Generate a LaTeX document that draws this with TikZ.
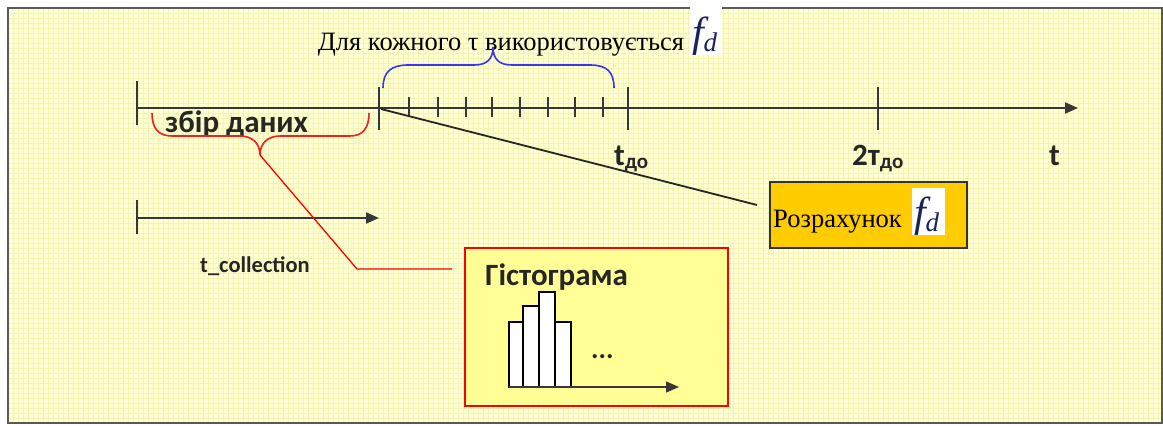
\documentclass[tikz,border=0pt]{standalone}
\usepackage{fontspec}
\setmainfont{Liberation Serif}
\newfontfamily\calfont{Carlito}
\usetikzlibrary{arrows.meta}
\definecolor{bgyel}{RGB}{255,255,212}
\definecolor{gridyel}{RGB}{246,242,178}
\definecolor{histyel}{RGB}{255,255,150}
\definecolor{calcorange}{RGB}{255,204,0}
\definecolor{axisgray}{RGB}{55,55,55}
\definecolor{framegray}{RGB}{90,90,90}
\definecolor{fdnavy}{RGB}{25,35,90}
\definecolor{braceblue}{RGB}{55,55,235}
\definecolor{bracered}{RGB}{240,30,30}
\newcommand{\fdsym}{\color{fdnavy}\fontsize{42}{42}\selectfont\itshape f\kern-1pt\raisebox{-5pt}{\fontsize{27}{27}\selectfont d}}
\newcommand{\subdo}{\raisebox{-3pt}{\fontsize{21}{21}\selectfont до}}
\begin{document}
\begin{tikzpicture}[x=1pt,y=-1pt,
  axisline/.style={axisgray, line width=2pt},
  tickmark/.style={axisgray, line width=2pt},
  arrowtip/.style={-{Triangle[length=13pt,width=11pt]}},
  serif/.style={font=\fontsize{26.5}{26.5}\selectfont, inner sep=0pt},
  boldsans/.style={font=\calfont\bfseries\fontsize{31}{31}\selectfont, inner sep=0pt, text=black!85},
  smallsans/.style={font=\calfont\bfseries\fontsize{22.5}{22.5}\selectfont, inner sep=0pt, text=black!85},
  fdwhite/.style={fill=white, inner sep=0pt},
  calcbox/.style={draw=black!80, line width=1.5pt, fill=calcorange},
  histbox/.style={draw=red, line width=1.5pt, fill=histyel},
  bar/.style={draw=black, line width=1.5pt, fill=white},
  bluebrace/.style={braceblue, line width=1.6pt},
  redbrace/.style={bracered, line width=1.6pt},
  redline/.style={red, line width=1.3pt},
  blackline/.style={black!85, line width=1.8pt}
]
\useasboundingbox (0,0) rectangle (1163,426);
\fill[white] (0,0) rectangle (1163,426);
\fill[bgyel] (8,8) rectangle (1162,423);
\foreach \gx in {13,18,...,1158} \draw[gridyel, line width=0.5pt] (\gx,8) -- (\gx,423);
\foreach \gy in {13,18,...,420} \draw[gridyel, line width=0.5pt] (8,\gy) -- (1162,\gy);
\draw[framegray, line width=2pt] (8,8) rectangle (1162,423);

% main time axis
\coordinate (ax0) at (137,108);
\coordinate (axend) at (1078,108);
\draw[axisline, arrowtip] (ax0) -- (axend);
\draw[tickmark] (137,81) -- (137,125);
\draw[tickmark] (379,87) -- (379,130);
\foreach \tx in {409,438,466,492,520,548,575,603}
  \draw[tickmark] (\tx,97) -- (\tx,117);
\draw[tickmark] (628,87) -- (628,130);
\draw[tickmark] (878,87) -- (878,130);

% axis labels
\node[boldsans, anchor=base west] (tdo) at (614,165) {t\subdo};
\node[boldsans, anchor=base west] (twotdo) at (852,165) {2т\subdo};
\node[boldsans, anchor=base west] (tlab) at (1049,165) {t};

% top label and blue brace
\node[serif, anchor=base] (foreach) at (501,50) {Для кожного τ використовується};
\node[fdwhite, minimum width=32pt, minimum height=55pt] (fdtop) at (706,27.5) {};
\node[inner sep=0pt, anchor=base] (fdtoptext) at (705,46) {\fdsym};
\draw[bluebrace] (383,88) .. controls (383,72) and (391,65) .. (408,65)
  -- (474,65) .. controls (487,65) and (493,59) .. (493,47)
  .. controls (493,59) and (499,65) .. (512,65)
  -- (590,65) .. controls (607,65) and (614,72) .. (614,88);

% data collection brace
\node[boldsans, anchor=base west] (zbir) at (165,132) {збір даних};
\coordinate (redtip) at (260,155);
\draw[redbrace] (152,113) .. controls (152,128) and (158,136) .. (172,136)
  -- (240,136) .. controls (252,136) and (260,143) .. (redtip)
  .. controls (260,143) and (268,136) .. (280,136)
  -- (350,136) .. controls (363,136) and (369,128) .. (369,113);

% t_collection arrow
\coordinate (tc0) at (137,218);
\coordinate (tcend) at (379,218);
\draw[axisline, arrowtip] (tc0) -- (tcend);
\draw[tickmark] (137,200) -- (137,234);
\node[smallsans, anchor=base west] (tcoll) at (200,272) {t\_collection};

% calculation box
\node[calcbox, minimum width=197pt, minimum height=66pt] (calc) at (868.5,215) {};
\node[serif, anchor=base west] (calctext) at (773,227) {Розрахунок};
\node[fdwhite, minimum width=33pt, minimum height=47pt] (calcfd) at (928.5,211.5) {};
\node[inner sep=0pt, anchor=base] (calcfdtext) at (927,226) {\fdsym};
\coordinate (axstart) at (381,109);
\coordinate (calcin) at (757,205);
\draw[blackline] (axstart) -- (calcin);

% histogram box
\node[histbox, minimum width=263pt, minimum height=158pt] (hist) at (596.5,327) {};
\node[boldsans, anchor=base west] (histtitle) at (485,285) {Гістограма};
\draw[bar] (509,387) rectangle (523,322);
\draw[bar] (523,387) rectangle (539,306);
\draw[bar] (539,387) rectangle (555,292);
\draw[bar] (555,387) rectangle (571,322);
\coordinate (hx0) at (509,387);
\coordinate (hxend) at (679,387);
\draw[axisline, line width=1.5pt, arrowtip] (hx0) -- (hxend);
\node[boldsans, font=\calfont\bfseries\fontsize{28}{28}\selectfont, anchor=base west] (dots) at (591,358) {...};

% red connector
\coordinate (redbend) at (357,269);
\coordinate (histin) at (452,269);
\draw[redline] (redtip) -- (redbend) -- (histin);
\end{tikzpicture}
\end{document}
